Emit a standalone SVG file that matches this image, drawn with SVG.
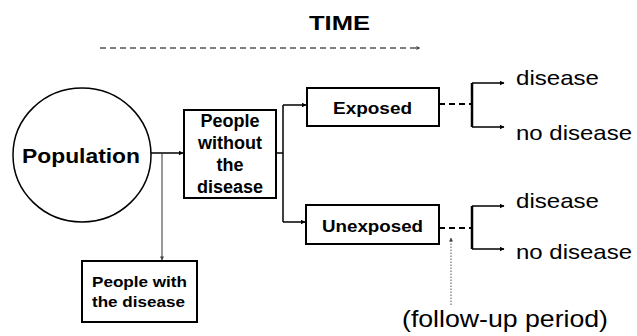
<svg xmlns="http://www.w3.org/2000/svg" width="637" height="336" viewBox="0 0 637 336">
<defs>
<marker id="ah" viewBox="0 0 10 10" refX="9" refY="5" markerWidth="5" markerHeight="5" markerUnits="userSpaceOnUse" orient="auto"><path d="M0,0 L10,5 L0,10 z" fill="#000"/></marker>
<marker id="ahs" viewBox="0 0 10 10" refX="9" refY="5" markerWidth="4" markerHeight="4" markerUnits="userSpaceOnUse" orient="auto"><path d="M0,0 L10,5 L0,10 z" fill="#444"/></marker>
</defs>
<style>
.box{fill:#fff;stroke:#000;stroke-width:2}
.b{font-family:"Liberation Sans",Arial,sans-serif;font-weight:bold;fill:#000}
.r{font-family:"Liberation Sans",Arial,sans-serif;fill:#000}
.c{fill:none;stroke:#000;stroke-width:1.5}
.d{fill:none;stroke:#000;stroke-width:2;stroke-dasharray:6,4}
</style>
<g id="title">
<text class="b" x="309" y="30" font-size="20" textLength="61" lengthAdjust="spacingAndGlyphs">TIME</text>
</g>
<g id="population">
<ellipse cx="82" cy="155" rx="69" ry="67" fill="#fff" stroke="#000" stroke-width="1.5"/>
<text class="b" x="22" y="163" font-size="21" textLength="118" lengthAdjust="spacingAndGlyphs">Population</text>
</g>
<g id="without">
<rect class="box" x="184" y="110" width="92" height="88"/>
<text class="b" font-size="18" text-anchor="middle"><tspan x="230" y="127">People</tspan><tspan x="230" y="149">without</tspan><tspan x="230" y="171">the</tspan><tspan x="230" y="193">disease</tspan></text>
</g>
<g id="with">
<rect class="box" x="82" y="261" width="115" height="61"/>
<text class="b" font-size="15" x="92" y="287" textLength="95" lengthAdjust="spacingAndGlyphs">People with</text>
<text class="b" font-size="15" x="92" y="307" textLength="93" lengthAdjust="spacingAndGlyphs">the disease</text>
</g>
<g id="exposed">
<rect class="box" x="307" y="88" width="132" height="38"/>
<text class="b" font-size="16" x="333" y="114" textLength="79" lengthAdjust="spacingAndGlyphs">Exposed</text>
</g>
<g id="unexposed">
<rect class="box" x="306" y="205" width="133" height="39"/>
<text class="b" font-size="16" x="322" y="232" textLength="101" lengthAdjust="spacingAndGlyphs">Unexposed</text>
</g>
<g id="outcomes">
<text class="r" font-size="21" x="516" y="85" textLength="83" lengthAdjust="spacingAndGlyphs">disease</text>
<text class="r" font-size="21" x="516" y="140" textLength="116" lengthAdjust="spacingAndGlyphs">no disease</text>
<text class="r" font-size="21" x="516" y="208" textLength="83" lengthAdjust="spacingAndGlyphs">disease</text>
<text class="r" font-size="21" x="516" y="259" textLength="116" lengthAdjust="spacingAndGlyphs">no disease</text>
</g>
<g id="followup">
<text class="r" font-size="24" x="402" y="327" textLength="206" lengthAdjust="spacingAndGlyphs">(follow-up period)</text>
</g>
<g id="connectors">
<line x1="100" y1="48" x2="420" y2="48" stroke="#000" stroke-width="1" stroke-dasharray="6,4" marker-end="url(#ahs)"/>
<line class="c" x1="151" y1="153" x2="183" y2="153" marker-end="url(#ah)"/>
<line x1="162" y1="153" x2="162" y2="260" stroke="#333" stroke-width="1" marker-end="url(#ahs)"/>
<polyline class="c" points="276,153 283,153"/>
<line class="c" x1="283" y1="105" x2="283" y2="222"/>
<polyline class="c" points="283,105 306,105" marker-end="url(#ah)"/>
<polyline class="c" points="283,222 305,222" marker-end="url(#ah)"/>
<line class="d" x1="439" y1="104" x2="472" y2="104"/>
<line x1="472" y1="83" x2="472" y2="127" stroke="#000" stroke-width="2.5"/>
<line class="c" x1="472" y1="83" x2="504" y2="83" marker-end="url(#ah)"/>
<line class="c" x1="472" y1="127" x2="504" y2="127" marker-end="url(#ah)"/>
<line class="d" x1="439" y1="228" x2="472" y2="228"/>
<line x1="472" y1="206" x2="472" y2="249" stroke="#000" stroke-width="2.5"/>
<line class="c" x1="472" y1="206" x2="504" y2="206" marker-end="url(#ah)"/>
<line class="c" x1="472" y1="249" x2="504" y2="249" marker-end="url(#ah)"/>
<line x1="451" y1="305" x2="451" y2="238" stroke="#555" stroke-width="1" stroke-dasharray="1.5,1.5" marker-end="url(#ahs)"/>
</g>
</svg>
